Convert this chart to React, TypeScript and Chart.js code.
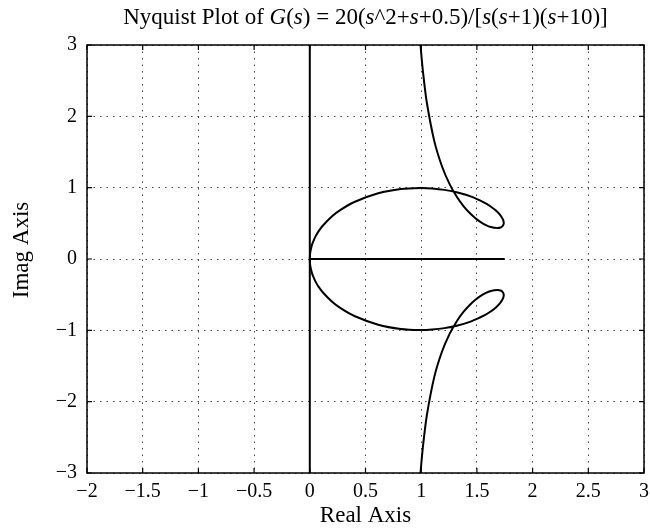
import React, { useEffect, useRef } from "react";
import { Chart, registerables } from "chart.js";

Chart.register(...registerables);

const FONT = "'Liberation Serif', 'Times New Roman', serif";

const titleRuns: string[] = ["Nyquist Plot of ", "G", "(", "s", ") = 20(", "s", "^2+", "s", "+0.5)/[", "s", "(", "s", "+1)(", "s", "+10)]"];
const titleItalic: boolean[] = [false, true, false, true, false, true, false, true, false, true, false, true, false, true, false];
const xAxisTitle = "Real Axis";
const yAxisTitle = "Imag Axis";

const xTicks: number[] = [-2, -1.5, -1, -0.5, 0, 0.5, 1, 1.5, 2, 2.5, 3];
const xTickLabels: string[] = ["\u22122", "\u22121.5", "\u22121", "\u22120.5", "0", "0.5", "1", "1.5", "2", "2.5", "3"];
const yTicks: number[] = [-3, -2, -1, 0, 1, 2, 3];
const yTickLabels: string[] = ["\u22123", "\u22122", "\u22121", "0", "1", "2", "3"];

// lower branch (positive frequencies)
const lowerRe: number[] = [0.990, 1.001, 1.019, 1.050, 1.117, 1.187, 1.256, 1.321, 1.381, 1.436, 1.484, 1.527, 1.581, 1.625, 1.686, 1.712, 1.728, 1.740, 1.740, 1.734, 1.708, 1.668, 1.620, 1.566, 1.449, 1.328, 1.209, 1.098, 0.995, 0.817, 0.614, 0.400, 0.276, 0.200, 0.118, 0.078, 0.054, 0.040, 0.020, 0.009, 0.005, 0.002, 0.001, 0.0];
const lowerIm: number[] = [-3.088, -2.867, -2.581, -2.197, -1.656, -1.297, -1.047, -0.868, -0.738, -0.644, -0.575, -0.525, -0.476, -0.449, -0.435, -0.442, -0.458, -0.490, -0.521, -0.554, -0.619, -0.682, -0.740, -0.791, -0.874, -0.932, -0.969, -0.989, -0.996, -0.981, -0.921, -0.799, -0.689, -0.600, -0.470, -0.388, -0.324, -0.280, -0.202, -0.133, -0.100, -0.067, -0.040, 0.0];

// upper branch (negative frequencies)
const upperRe: number[] = [0.990, 1.001, 1.019, 1.050, 1.117, 1.187, 1.256, 1.321, 1.381, 1.436, 1.484, 1.527, 1.581, 1.625, 1.686, 1.712, 1.728, 1.740, 1.740, 1.734, 1.708, 1.668, 1.620, 1.566, 1.449, 1.328, 1.209, 1.098, 0.995, 0.817, 0.614, 0.400, 0.276, 0.200, 0.118, 0.078, 0.054, 0.040, 0.020, 0.009, 0.005, 0.002, 0.001, 0.0];
const upperIm: number[] = [3.088, 2.867, 2.581, 2.197, 1.656, 1.297, 1.047, 0.868, 0.738, 0.644, 0.575, 0.525, 0.476, 0.449, 0.435, 0.442, 0.458, 0.490, 0.521, 0.554, 0.619, 0.682, 0.740, 0.791, 0.874, 0.932, 0.969, 0.989, 0.996, 0.981, 0.921, 0.799, 0.689, 0.600, 0.470, 0.388, 0.324, 0.280, 0.202, 0.133, 0.100, 0.067, 0.040, 0.0];

// imaginary axis line and real-axis segment
const imagLineX: number[] = [0, 0];
const imagLineY: number[] = [-3, 3];
const realLineX: number[] = [0, 1.75];
const realLineY: number[] = [0, 0];

const toPts = (xs: number[], ys: number[]) => xs.map((x, i) => ({ x, y: ys[i] }));

const framePlugin = {
  id: "matlabFrame",
  afterDraw(chart: any) {
    const { ctx, chartArea: a, scales } = chart;
    const xs = scales.x;
    const ys = scales.y;
    ctx.save();
    ctx.strokeStyle = "#000";
    ctx.lineWidth = 1.5;
    ctx.strokeRect(a.left, a.top, a.right - a.left, a.bottom - a.top);
    ctx.lineWidth = 1.2;
    ctx.beginPath();
    const tl = 5;
    xTicks.forEach((v) => {
      const p = xs.getPixelForValue(v);
      ctx.moveTo(p, a.bottom);
      ctx.lineTo(p, a.bottom - tl);
      ctx.moveTo(p, a.top);
      ctx.lineTo(p, a.top + tl);
    });
    yTicks.forEach((v) => {
      const p = ys.getPixelForValue(v);
      ctx.moveTo(a.left, p);
      ctx.lineTo(a.left + tl, p);
      ctx.moveTo(a.right, p);
      ctx.lineTo(a.right - tl, p);
    });
    ctx.stroke();

    // title with italic runs
    ctx.fillStyle = "#000";
    ctx.textBaseline = "middle";
    ctx.textAlign = "left";
    const size = 23;
    const widths = titleRuns.map((t, i) => {
      ctx.font = `${titleItalic[i] ? "italic " : ""}${size}px ${FONT}`;
      return ctx.measureText(t).width;
    });
    const total = widths.reduce((s, w) => s + w, 0);
    let cx = (a.left + a.right) / 2 - total / 2;
    titleRuns.forEach((t, i) => {
      ctx.font = `${titleItalic[i] ? "italic " : ""}${size}px ${FONT}`;
      ctx.fillText(t, cx, 18);
      cx += widths[i];
    });

    // axis titles
    ctx.font = `${size}px ${FONT}`;
    ctx.textAlign = "center";
    ctx.fillText(xAxisTitle, (a.left + a.right) / 2, 516);
    ctx.save();
    ctx.translate(22, 250);
    ctx.rotate(-Math.PI / 2);
    ctx.fillText(yAxisTitle, 0, 0);
    ctx.restore();
    ctx.restore();
  },
};

export default function App() {
  const ref = useRef<HTMLCanvasElement>(null);
  useEffect(() => {
    document.body.style.margin = "0";
    const line = { showLine: true, pointRadius: 0, borderColor: "#000", borderWidth: 2, fill: false };
    const chart = new Chart(ref.current as HTMLCanvasElement, {
      type: "scatter",
      data: {
        datasets: [
          { ...line, data: toPts(lowerRe, lowerIm), tension: 0.25 },
          { ...line, data: toPts(upperRe, upperIm), tension: 0.25 },
          { ...line, data: toPts(imagLineX, imagLineY), tension: 0 },
          { ...line, data: toPts(realLineX, realLineY), tension: 0 },
        ],
      },
      options: {
        responsive: false,
        animation: false,
        devicePixelRatio: 1,
        layout: { padding: { top: 45, right: 6, left: 0, bottom: 0 } },
        plugins: { legend: { display: false }, tooltip: { enabled: false }, title: { display: false } },
        scales: {
          x: {
            type: "linear",
            min: -2,
            max: 3,
            afterBuildTicks: (s: any) => {
              s.ticks = xTicks.map((v) => ({ value: v }));
            },
            afterFit: (s: any) => {
              s.height = 58;
              s.paddingLeft = 0;
              s.paddingRight = 0;
            },
            grid: { color: "#444", lineWidth: 1, drawTicks: false },
            border: { display: false, dash: [1.5, 5] },
            ticks: {
              color: "#000",
              padding: 7,
              maxRotation: 0,
              font: { family: FONT, size: 20 },
              callback: (_v: any, i: number) => xTickLabels[i],
            },
          },
          y: {
            type: "linear",
            min: -3,
            max: 3,
            afterBuildTicks: (s: any) => {
              s.ticks = yTicks.map((v) => ({ value: v }));
            },
            afterFit: (s: any) => {
              s.width = 87;
              s.paddingTop = 0;
              s.paddingBottom = 0;
            },
            grid: { color: "#444", lineWidth: 1, drawTicks: false },
            border: { display: false, dash: [1.5, 5] },
            ticks: {
              color: "#000",
              padding: 10,
              font: { family: FONT, size: 20 },
              callback: (_v: any, i: number) => yTickLabels[i],
            },
          },
        },
      },
      plugins: [framePlugin],
    } as any);
    return () => chart.destroy();
  }, []);
  return (
    <div style={{ width: 650, height: 531, position: "relative" }}>
      <canvas ref={ref} width={650} height={531} style={{ display: "block" }} />
    </div>
  );
}
